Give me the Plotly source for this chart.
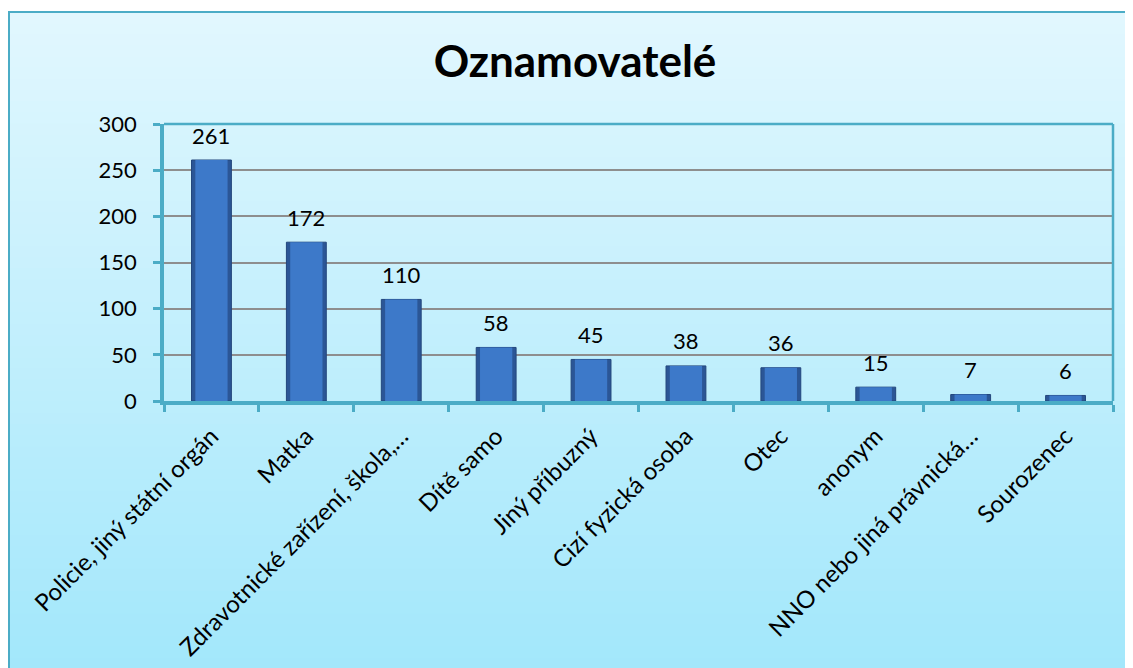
import plotly.graph_objects as go

categories = ["Policie, jiný státní orgán", "Matka", "Zdravotnické zařízení, škola,…",
              "Dítě samo", "Jiný příbuzný", "Cizí fyzická osoba", "Otec", "anonym",
              "NNO nebo jiná právnická…", "Sourozenec"]
values = [261, 172, 110, 58, 45, 38, 36, 15, 7, 6]
y_ticks = [0, 50, 100, 150, 200, 250, 300]

OFF = 8  # page body margin
W, H = 1133 - OFF, 668 - OFF
L, T = 164 - OFF, 124 - OFF
R = W - (1113 - OFF)
B = H - (401 - OFF)
pw, ph = W - L - R, H - T - B

def px_x(x):  # reference (screen) px -> paper
    return (x - OFF - L) / pw

def px_y(y):
    return (H - B - (y - OFF)) / ph

FONT = "Lato, 'Open Sans', sans-serif"
TEAL = "#4bacc6"

fig = go.Figure()
fig.add_trace(go.Bar(
    x=categories, y=values,
    marker=dict(color="#2b5696", line=dict(color="#23467c", width=1)),
    width=0.42, hoverinfo="skip",
))
fig.add_trace(go.Bar(
    x=categories, y=values,
    marker=dict(color="#3d79c9", line=dict(width=0)),
    width=0.34, hoverinfo="skip",
))

annotations = [dict(x=c, y=v, xref="x", yref="y", text=str(v), showarrow=False,
                    yshift=25, font=dict(size=22, color="black", family=FONT))
               for c, v in zip(categories, values)]

shapes = []
# gradient background
n = 60
top_c = (0xe1, 0xf7, 0xfe)
bot_c = (0xa2, 0xe7, 0xfb)
for i in range(n):
    t = i / (n - 1)
    c = tuple(int(round(top_c[k] + (bot_c[k] - top_c[k]) * t)) for k in range(3))
    ya = 12 + (680 - 12) * i / n
    yb = 12 + (680 - 12) * (i + 1) / n + 1
    shapes.append(dict(type="rect", xref="paper", yref="paper",
                       x0=px_x(9), x1=px_x(1145), y0=px_y(ya), y1=px_y(yb),
                       fillcolor="rgb(%d,%d,%d)" % c, line=dict(width=0), layer="below"))
# outer frame
shapes.append(dict(type="rect", xref="paper", yref="paper",
                   x0=px_x(9), x1=px_x(1150), y0=px_y(690), y1=px_y(12),
                   line=dict(color=TEAL, width=2), fillcolor="rgba(0,0,0,0)", layer="above"))
# plot area border (top and right)
shapes.append(dict(type="line", xref="paper", yref="paper", x0=0, x1=1, y0=1, y1=1,
                   line=dict(color=TEAL, width=2.5), layer="above"))
shapes.append(dict(type="line", xref="paper", yref="paper", x0=1, x1=1, y0=0, y1=1,
                   line=dict(color=TEAL, width=2.5), layer="above"))

fig.update_layout(
    width=W, height=H, autosize=False,
    margin=dict(l=L, r=R, t=T, b=B, pad=0, autoexpand=False),
    paper_bgcolor="white", plot_bgcolor="rgba(0,0,0,0)",
    title=dict(text="<b>Oznamovatelé</b>", x=(575 - OFF) / W, xanchor="center",
               y=1 - (62 - OFF) / H, yanchor="middle",
               font=dict(size=44, color="black", family=FONT)),
    showlegend=False,
    barmode="overlay",
    shapes=shapes,
    annotations=annotations,
    xaxis=dict(
        type="category", tickangle=-45, automargin=False,
        tickfont=dict(size=24, color="black", family=FONT),
        showline=True, linecolor=TEAL, linewidth=3.5,
        ticks="outside", tickson="boundaries", ticklen=7, tickwidth=3, tickcolor=TEAL,
        ticklabelstandoff=8,
        showgrid=False, zeroline=False,
    ),
    yaxis=dict(
        range=[0, 300], tickvals=y_ticks, automargin=False,
        tickfont=dict(size=22, color="black", family=FONT),
        showline=True, linecolor=TEAL, linewidth=3.5,
        ticks="outside", ticklen=7, tickwidth=3, tickcolor=TEAL,
        ticklabelstandoff=12,
        showgrid=True, gridcolor="#8e8e8e", gridwidth=1.5, zeroline=False,
    ),
)

fig.write_html("out.html")
